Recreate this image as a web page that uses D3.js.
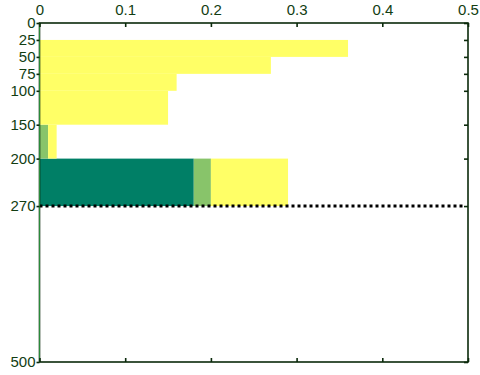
<!DOCTYPE html>
<html><head><meta charset="utf-8">
<script src="https://cdn.jsdelivr.net/npm/d3@7"></script>
<style>body{margin:0;background:#fff}</style>
</head><body>
<script>
const depthTop    = [25, 50, 75, 100, 150, 200];
const depthBottom = [50, 75, 100, 150, 200, 270];
const darkValues  = [0, 0, 0, 0, 0, 0.18];
const greenValues = [0, 0, 0, 0, 0.01, 0.02];
const yellowValues= [0.36, 0.27, 0.16, 0.15, 0.01, 0.09];
const xTicks = [0, 0.1, 0.2, 0.3, 0.4, 0.5];
const yTicks = [0, 25, 50, 75, 100, 150, 200, 270, 500];
const lineDepth = 270;
const colors = {dark: "#007f66", green: "#88c46a", yellow: "#ffff66"};

const W = 480, H = 375;
const m = {l: 39.5, r: 12, t: 23, b: 13};
const svg = d3.select("body").append("svg").attr("width", W).attr("height", H);
const x = d3.scaleLinear().domain([0, 0.5]).range([m.l, W - m.r]);
const y = d3.scaleLinear().domain([0, 500]).range([m.t, H - m.b]);

const rows = depthTop.map((d, i) => ({top: d, bot: depthBottom[i], dark: darkValues[i], green: greenValues[i], yellow: yellowValues[i]}));
const stack = d3.stack().keys(["dark", "green", "yellow"])(rows);
svg.append("g").selectAll("g").data(stack).join("g")
  .attr("fill", s => colors[s.key])
  .selectAll("rect").data(s => s).join("rect")
  .attr("x", d => x(d[0]))
  .attr("width", d => Math.max(0, x(d[1]) - x(d[0])))
  .attr("y", d => y(d.data.top))
  .attr("height", d => y(d.data.bot) - y(d.data.top));

svg.append("line").attr("x1", x(0)).attr("x2", x(0.497)).attr("y1", y(lineDepth)).attr("y2", y(lineDepth))
  .attr("stroke", "#000").attr("stroke-width", 3).attr("stroke-dasharray", "3,3");

const axisColor = "#0b2a0b";
const txtColor = "#123d12";
svg.append("rect").attr("x", x(0)).attr("y", y(0)).attr("width", x(0.5) - x(0)).attr("height", y(500) - y(0))
  .attr("fill", "none").attr("stroke", axisColor).attr("stroke-width", 1.6);
svg.append("line").attr("x1", x(0)).attr("x2", x(0)).attr("y1", y(0)).attr("y2", y(500))
  .attr("stroke", "#2a8a3a").attr("stroke-width", 1);

const gTop = svg.append("g").attr("transform", `translate(0,${y(0)})`)
  .call(d3.axisTop(x).tickValues(xTicks).tickSize(-4).tickPadding(8).tickFormat(d3.format("")));
const gRight = svg.append("g").attr("transform", `translate(${x(0.5)},0)`)
  .call(d3.axisRight(y).tickValues(yTicks).tickSize(-4).tickFormat(""));
const gBottom = svg.append("g").attr("transform", `translate(0,${y(500)})`)
  .call(d3.axisBottom(x).tickValues(xTicks).tickSize(-4).tickFormat(""));
const gLeft = svg.append("g").attr("transform", `translate(${x(0)},0)`)
  .call(d3.axisLeft(y).tickValues(yTicks).tickSize(3).tickPadding(1));

[gTop, gRight, gBottom, gLeft].forEach(g => {
  g.select(".domain").remove();
  g.selectAll(".tick line").attr("stroke", axisColor).attr("stroke-width", 1.6);
  g.selectAll("text").attr("fill", txtColor).style("font-family", "Liberation Sans, Arial, sans-serif").style("font-size", "15px");
});
</script>
</body></html>
